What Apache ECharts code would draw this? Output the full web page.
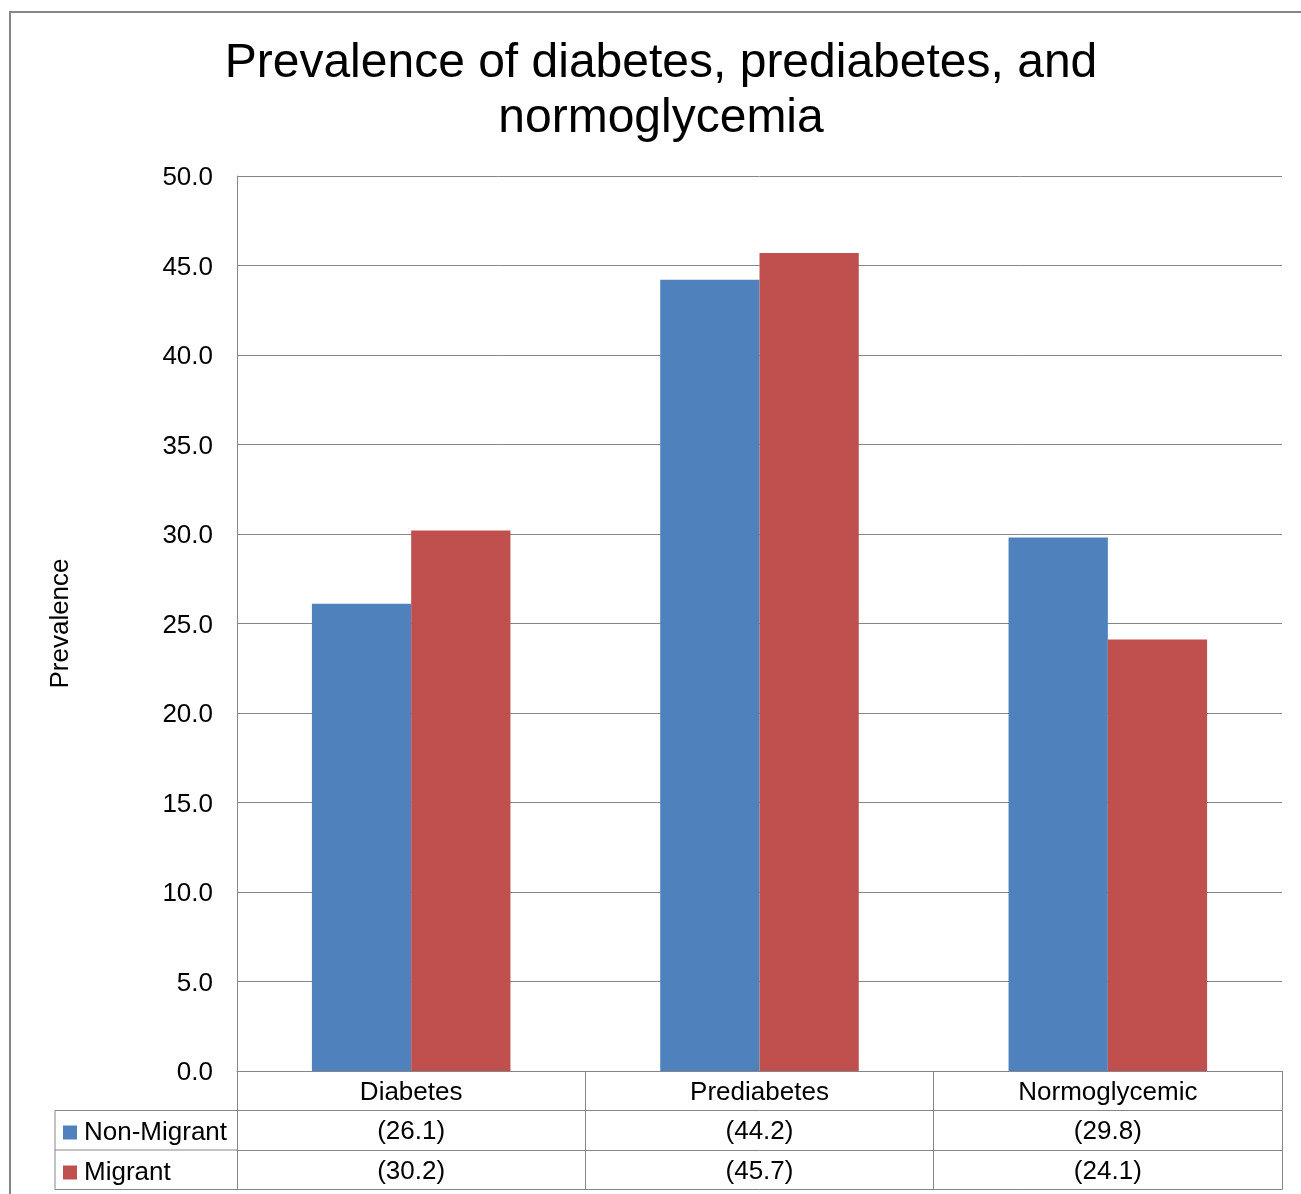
<!DOCTYPE html>
<html>
<head>
<meta charset="utf-8">
<script src="https://cdn.jsdelivr.net/npm/echarts@6/dist/echarts.min.js"></script>
<style>
  html, body { margin: 0; padding: 0; background: #fff; }
  #chart { width: 1301px; height: 1194px; }
</style>
</head>
<body>
<div id="chart"></div>
<script>
// Prevalence (%) by glycaemic status
const categories = ['Diabetes', 'Prediabetes', 'Normoglycemic'];
const seriesNames = ['Non-Migrant', 'Migrant'];
const nonMigrant = [26.1, 44.2, 29.8];
const migrant = [30.2, 45.7, 24.1];
const yAxisRange = { min: 0, max: 50, interval: 5 };

const FONT = '"Liberation Sans", Arial, Helvetica, sans-serif';
const LINE = '#868686';
const BLUE = '#4F81BD';
const RED = '#C0504D';

// plot area and data-table geometry
const GRID = { left: 237, right: 19, top: 176, bottom: 123 };
const ROW_H = 39.5;
const TABLE_LEFT = 55;
const W = 1301, H = 1194;
const LABEL_SIZE = 26;

const chart = echarts.init(document.getElementById('chart'));

function fmt(v) { return '(' + v.toFixed(1) + ')'; }

function tableAxis(offset, formatter, withTicks, withLabels) {
  return {
    type: 'category',
    data: categories,
    position: 'bottom',
    offset: offset,
    boundaryGap: true,
    axisLine: { show: true, lineStyle: { color: LINE, width: 1 } },
    axisTick: { show: withTicks, length: ROW_H, lineStyle: { color: LINE, width: 1 } },
    axisLabel: {
      show: withLabels,
      margin: ROW_H / 2 + 2,
      verticalAlign: 'middle',
      fontFamily: FONT,
      fontSize: LABEL_SIZE,
      lineHeight: 26,
      color: '#000',
      formatter: formatter
    },
    splitLine: { show: false }
  };
}

const gridBottomY = H - GRID.bottom;

chart.setOption({
  animation: false,
  backgroundColor: '#fff',
  title: {
    text: 'Prevalence of diabetes, prediabetes, and\nnormoglycemia',
    left: 661,
    textAlign: 'center',
    top: 36,
    padding: 0,
    textStyle: { fontFamily: FONT, fontSize: 48, lineHeight: 55, fontWeight: 'normal', color: '#000' }
  },
  legend: {
    orient: 'vertical',
    left: 58,
    top: gridBottomY + ROW_H + 4,
    itemWidth: 14,
    itemHeight: 14,
    itemGap: 14,
    icon: 'rect',
    selectedMode: false,
    data: seriesNames,
    textStyle: { fontFamily: FONT, fontSize: LABEL_SIZE, lineHeight: 26, color: '#000', padding: [0, 0, 0, 2] }
  },
  grid: { left: GRID.left, right: GRID.right, top: GRID.top, bottom: GRID.bottom, containLabel: false },
  xAxis: [
    tableAxis(0, null, true, true),
    tableAxis(ROW_H, (v, i) => fmt(nonMigrant[i]), true, true),
    tableAxis(ROW_H * 2, (v, i) => fmt(migrant[i]), true, true),
    tableAxis(ROW_H * 3, null, false, false)
  ],
  yAxis: {
    type: 'value',
    min: yAxisRange.min,
    max: yAxisRange.max,
    interval: yAxisRange.interval,
    name: 'Prevalence',
    nameLocation: 'middle',
    nameRotate: 90,
    nameGap: 163,
    nameTextStyle: { fontFamily: FONT, fontSize: LABEL_SIZE, color: '#000' },
    axisLine: { show: true, lineStyle: { color: LINE, width: 1 } },
    axisTick: { show: false },
    axisLabel: {
      margin: 24,
      fontFamily: FONT,
      fontSize: LABEL_SIZE,
      color: '#000',
      formatter: v => '{t|' + v.toFixed(1) + '}',
      rich: {
        t: { fontFamily: FONT, fontSize: LABEL_SIZE, color: '#000', padding: [4, 0, 0, 0] }
      }
    },
    splitLine: { show: true, lineStyle: { color: LINE, width: 1 } }
  },
  series: [
    {
      name: seriesNames[0],
      type: 'bar',
      xAxisIndex: 0,
      data: nonMigrant,
      barGap: '0%',
      barCategoryGap: '43%',
      itemStyle: { color: BLUE }
    },
    {
      name: seriesNames[1],
      type: 'bar',
      xAxisIndex: 0,
      data: migrant,
      barGap: '0%',
      barCategoryGap: '43%',
      itemStyle: { color: RED }
    }
  ],
  graphic: [
    // outer chart frame
    {
      type: 'rect',
      silent: true,
      shape: { x: 10, y: 12, width: W + 50, height: H + 50 },
      style: { fill: 'none', stroke: LINE, lineWidth: 2 }
    },
    // legend column of the data table
    {
      type: 'polyline',
      silent: true,
      shape: { points: [
        [GRID.left, gridBottomY + ROW_H],
        [TABLE_LEFT, gridBottomY + ROW_H],
        [TABLE_LEFT, gridBottomY + ROW_H * 3],
        [GRID.left, gridBottomY + ROW_H * 3]
      ] },
      style: { fill: 'none', stroke: LINE, lineWidth: 1 }
    },
    {
      type: 'line',
      silent: true,
      shape: { x1: TABLE_LEFT, y1: gridBottomY + ROW_H * 2, x2: GRID.left, y2: gridBottomY + ROW_H * 2 },
      style: { stroke: LINE, lineWidth: 1 }
    }
  ]
});
</script>
</body>
</html>
